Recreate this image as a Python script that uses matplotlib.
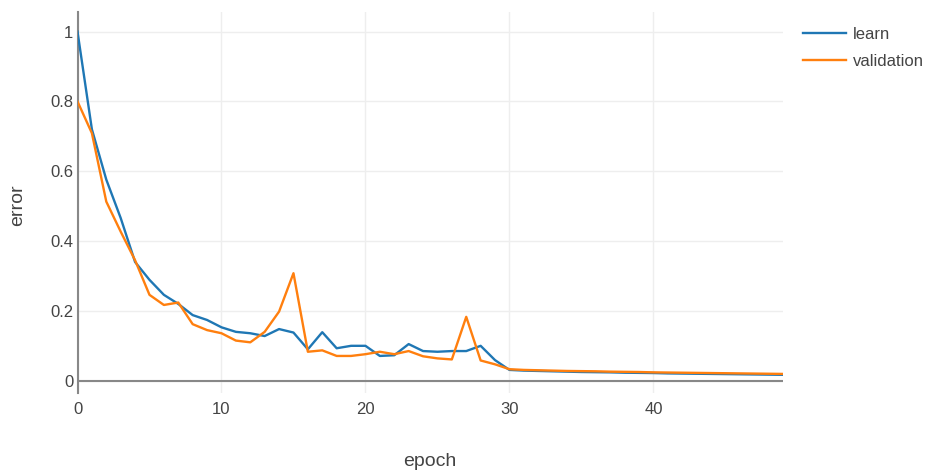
import numpy as np
import matplotlib
matplotlib.use("Agg")
import matplotlib.pyplot as plt

plt.rcParams['font.family'] = ['Liberation Sans', 'DejaVu Sans']

# error per epoch
epochs = list(range(50))
learn = [1.0, 0.72, 0.576, 0.466, 0.34, 0.289, 0.246, 0.22, 0.188, 0.174,
         0.153, 0.14, 0.136, 0.128, 0.148, 0.138, 0.09, 0.139, 0.093, 0.1,
         0.1, 0.071, 0.073, 0.105, 0.085, 0.083, 0.085, 0.085, 0.1, 0.059,
         0.031, 0.029, 0.028, 0.027, 0.026, 0.025, 0.0245, 0.024, 0.023, 0.0225,
         0.022, 0.021, 0.0205, 0.02, 0.0195, 0.019, 0.0185, 0.018, 0.0175, 0.017]
validation = [0.80, 0.709, 0.513, 0.427, 0.345, 0.246, 0.217, 0.224, 0.162, 0.145,
              0.136, 0.115, 0.11, 0.14, 0.198, 0.308, 0.083, 0.087, 0.071, 0.071,
              0.076, 0.083, 0.076, 0.085, 0.07, 0.064, 0.061, 0.183, 0.058, 0.047,
              0.033, 0.031, 0.03, 0.029, 0.028, 0.0275, 0.027, 0.026, 0.0255, 0.025,
              0.024, 0.0235, 0.023, 0.0225, 0.022, 0.0215, 0.021, 0.0205, 0.02, 0.0195]
x_ticks = [0, 10, 20, 30, 40]
y_ticks = [0, 0.2, 0.4, 0.6, 0.8, 1]
y_tick_labels = ["0", "0.2", "0.4", "0.6", "0.8", "1"]

W, H = 931, 473
fig = plt.figure(figsize=(W / 100, H / 100), dpi=100)
left, right, top, bottom = 77.5, 783, 11.7, 393.3
ax = fig.add_axes([left / W, 1 - bottom / H, (right - left) / W, (bottom - top) / H])

txt = "#444444"
ax.plot(epochs, learn, color="#1f77b4", lw=1.7, label="learn", zorder=3)
ax.plot(epochs, validation, color="#ff7f0e", lw=1.7, label="validation", zorder=3)

ax.set_xlim(0, 49)
ax.set_ylim(-0.036, 1.057)
ax.set_xticks(x_ticks)
ax.set_yticks(y_ticks)
ax.set_yticklabels(y_tick_labels)
ax.grid(True, color="#eeeeee", lw=1)
ax.axhline(0, color="#888888", lw=1.5, zorder=2)

for s in ["top", "right", "bottom"]:
    ax.spines[s].set_visible(False)
ax.spines["left"].set_color("#888888")
ax.spines["left"].set_linewidth(1.5)
ax.tick_params(length=0, labelsize=12, labelcolor=txt)
ax.tick_params(axis="x", pad=6)
ax.tick_params(axis="y", pad=3)

fig.text(430 / W, 1 - 461 / H, "epoch", ha="center", va="center", fontsize=14, color=txt)
fig.text(18 / W, 1 - 205 / H, "error", ha="center", va="center", rotation=90, fontsize=14, color=txt)

ax.legend(loc="upper left", bbox_to_anchor=(803 / W, 1 - 27 / H), bbox_transform=fig.transFigure,
          frameon=False, fontsize=12, labelcolor=txt, handlelength=2.6, handletextpad=0.4,
          labelspacing=0.7, borderpad=0, borderaxespad=0)

fig.savefig("out.png", dpi=100)
